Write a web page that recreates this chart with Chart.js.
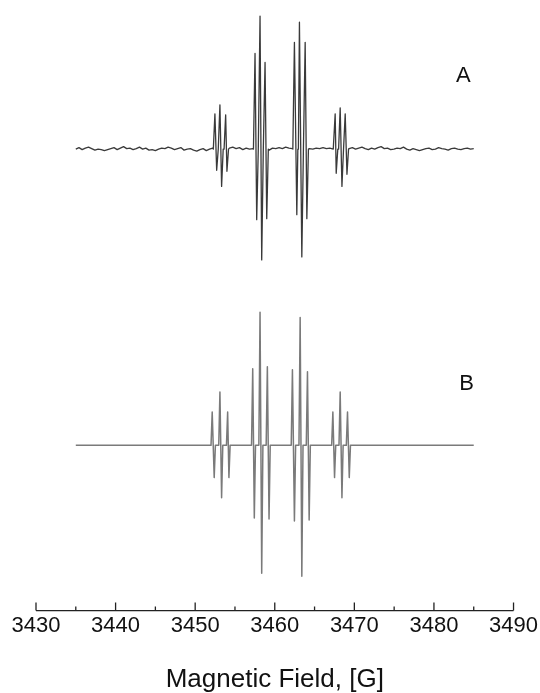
<!DOCTYPE html>
<html>
<head>
<meta charset="utf-8">
<script src="https://cdn.jsdelivr.net/npm/chart.js@4/dist/chart.umd.min.js"></script>
<style>
  html, body { margin: 0; padding: 0; background: #fff; }
  #wrap { width: 540px; height: 693px; }
</style>
</head>
<body>
<div id="wrap"><canvas id="c" width="540" height="693"></canvas></div>
<script>
// Magnetic field axis (G)
const xTicks = [3430, 3440, 3450, 3460, 3470, 3480, 3490];
const xMinorTicks = [3435, 3445, 3455, 3465, 3475, 3485];
const sweep = [3435, 3485];

// Spectrum A (experimental): derivative peak positions (G) and amplitudes (a.u.)
const aUpField   = [3452.48, 3453.11, 3453.83, 3457.52, 3458.15, 3458.78, 3462.47, 3463.10, 3463.82, 3467.59, 3468.22, 3468.85];
const aUpValue   = [35, 44, 34, 95, 132, 86, 106, 126, 106, 35, 41, 35];
const aDownField = [3452.70, 3453.32, 3453.99, 3457.73, 3458.36, 3458.99, 3462.77, 3463.40, 3464.03, 3467.72, 3468.44, 3469.07];
const aDownValue = [-21, -37, -22, -70, -110, -69, -65, -107, -69, -24, -37, -25];

// Spectrum A baseline noise between the line groups (a.u.)
const aNoise1 = [0, 1.5, -0.5, 1, 2, 0.5, -1, 0, -0.5, -1.5, -0.5, 0.5, 1.5, -0.5, 1, 2.5, 0.5, 1, -0.5, 0.5, 2, 0, 1, -1, -0.5, -1.5, 0, 1, 0.5, 2, 1, -0.5, 0.5, 1.5, -1, 0, 0.5, -1, -2, -0.5, 0.5, -1.5, 0, 1];
const aNoise2 = [1, 2, 0.5, 1.5, -0.5, 1, 0, 0.5];
const aNoise3 = [-1, 1, 0.5, 1.5, 0.5, 2, 1, 0.5];
const aNoise4 = [0.5, 0, 1, 0.5, 1.5, 0.5, 1, 0];
const aNoise5 = [0.5, 1.5, 0, 1, 2, 0.5, -0.5, 1, 0, 1.5, 2.5, 0.5, 1, -0.5, 0, 1, 0.5, 2, 0, -1, 0.5, -0.5, -1.5, -0.5, 0.5, 1, -0.5, 0, 1.5, 0.5, 0, -1, 0.5, 1, 0, -0.5, 0.5, 1, 0, 0.5];
const aNoiseRanges = [[3435, 3452.2], [3454.3, 3457.25], [3459.3, 3462.2], [3464.35, 3467.35], [3469.35, 3485]];

// Spectrum B (simulated): derivative peak positions (G) and amplitudes (a.u.)
const bUpField   = [3452.14, 3453.11, 3454.08, 3457.23, 3458.15, 3459.07, 3462.22, 3463.19, 3464.11, 3467.30, 3468.22, 3469.14];
const bUpValue   = [33, 53, 33, 76, 132, 78, 75, 127, 73, 33, 53, 33];
const bDownField = [3452.39, 3453.32, 3454.24, 3457.43, 3458.36, 3459.28, 3462.47, 3463.40, 3464.32, 3467.51, 3468.44, 3469.36];
const bDownValue = [-32, -52, -32, -72, -127, -73, -75, -130, -74, -32, -52, -32];

// Vertical offsets of the two stacked traces
const offsetA = 458;
const offsetB = 164;

function buildTrace(upF, upV, downF, downV, tail, baseSegs, offset) {
  const pts = [];
  upF.forEach((f, i) => {
    pts.push({ x: f - tail, y: 0 });
    pts.push({ x: f, y: upV[i] });
    pts.push({ x: downF[i], y: downV[i] });
    pts.push({ x: downF[i] + tail, y: 0 });
  });
  baseSegs.forEach(([range, vals]) => {
    const n = vals.length;
    vals.forEach((v, j) => {
      pts.push({ x: range[0] + (range[1] - range[0]) * j / (n - 1), y: v });
    });
  });
  pts.sort((p, q) => p.x - q.x);
  return pts.map(p => ({ x: p.x, y: p.y + offset }));
}

const traceA = buildTrace(aUpField, aUpValue, aDownField, aDownValue, 0.2,
  [aNoise1, aNoise2, aNoise3, aNoise4, aNoise5].map((v, i) => [aNoiseRanges[i], v]), offsetA);
const traceB = buildTrace(bUpField, bUpValue, bDownField, bDownValue, 0.15,
  [[sweep, [0, 0]]], offsetB);

const FONT = "'Liberation Sans', Arial, Helvetica, sans-serif";

// Axis line, inward tick marks and trace labels
const axisDecor = {
  id: 'axisDecor',
  afterDraw(chart) {
    const { ctx, chartArea, scales } = chart;
    const xs = scales.x, ys = scales.y;
    const y0 = chartArea.bottom;
    ctx.save();
    ctx.strokeStyle = '#222';
    ctx.lineWidth = 1.3;
    ctx.beginPath();
    ctx.moveTo(xs.getPixelForValue(3430), y0);
    ctx.lineTo(xs.getPixelForValue(3490), y0);
    xTicks.forEach(v => {
      const px = xs.getPixelForValue(v);
      ctx.moveTo(px, y0);
      ctx.lineTo(px, y0 - 8);
    });
    xMinorTicks.forEach(v => {
      const px = xs.getPixelForValue(v);
      ctx.moveTo(px, y0);
      ctx.lineTo(px, y0 - 4);
    });
    ctx.stroke();

    ctx.fillStyle = '#111';
    ctx.font = '22px ' + FONT;
    ctx.textAlign = 'center';
    ctx.textBaseline = 'middle';
    ctx.fillText('A', xs.getPixelForValue(3483.7), ys.getPixelForValue(531));
    ctx.fillText('B', xs.getPixelForValue(3484.1), ys.getPixelForValue(225));
    ctx.restore();
  }
};

new Chart(document.getElementById('c'), {
  type: 'line',
  data: {
    datasets: [
      { label: 'A', data: traceA, borderColor: '#3a3a3a', borderWidth: 1.3, pointRadius: 0, tension: 0, borderJoinStyle: 'round' },
      { label: 'B', data: traceB, borderColor: '#7a7a7a', borderWidth: 1.5, pointRadius: 0, tension: 0, borderJoinStyle: 'round' }
    ]
  },
  options: {
    responsive: false,
    animation: false,
    devicePixelRatio: 1,
    layout: { padding: { left: 36, right: 22, top: 0, bottom: 0 } },
    plugins: { legend: { display: false }, tooltip: { enabled: false } },
    scales: {
      x: {
        type: 'linear',
        min: 3430,
        max: 3490,
        afterBuildTicks: s => { s.ticks = xTicks.map(v => ({ value: v })); },
        grid: { display: false, drawTicks: false },
        border: { display: false },
        ticks: {
          color: '#111', font: { family: FONT, size: 22 }, padding: 2, maxRotation: 0, autoSkip: false,
          callback: v => String(v)
        },
        title: { display: true, text: 'Magnetic Field, [G]', color: '#111', font: { family: FONT, size: 26, lineHeight: 1.0 }, padding: { top: 26, bottom: 0 } }
      },
      y: { display: false, min: 0, max: 606 }
    }
  },
  plugins: [axisDecor]
});
</script>
</body>
</html>
